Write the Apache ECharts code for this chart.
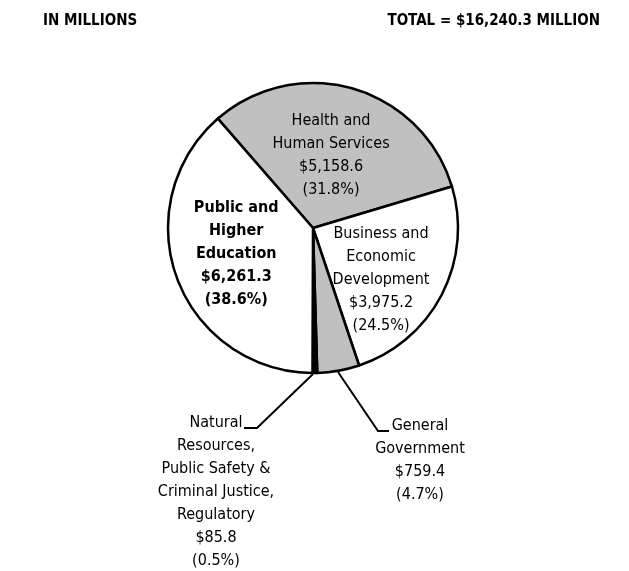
<!DOCTYPE html>
<html>
<head>
<meta charset="utf-8">
<script src="https://cdn.jsdelivr.net/npm/echarts@6/dist/echarts.min.js"></script>
<style>
  html, body { margin: 0; padding: 0; background: #fff; }
  #chart { width: 629px; height: 571px; }
</style>
</head>
<body>
<div id="chart"></div>
<script>
// Budget areas, in millions of dollars
const categories = [
  'Health and\nHuman Services',
  'Business and\nEconomic\nDevelopment',
  'General\nGovernment',
  'Natural\nResources,\nPublic Safety &\nCriminal Justice,\nRegulatory',
  'Public and\nHigher\nEducation'
];
const amounts = [5158.6, 3975.2, 759.4, 85.8, 6261.3];
const shares = [31.8, 24.5, 4.7, 0.5, 38.6];
const totalAmount = 16240.3;
const unitsLabel = 'IN MILLIONS';

// Styling per slice
const sliceColors = ['#c0c0c0', '#ffffff', '#c0c0c0', '#000000', '#ffffff'];
const boldLabel = [false, false, false, false, true];
const outsideLabel = [false, false, true, true, false];

// Pie geometry
const CX = 313, CY = 228, R = 145;
const FONT = '"Liberation Sans Narrow", "DejaVu Sans Condensed", "Arial Narrow", sans-serif';
const LINE_H = 23;

const money = v => '$' + v.toLocaleString('en-US', { minimumFractionDigits: 1, maximumFractionDigits: 1 });

// Nudges for labels drawn inside their slices
const insideShift = { 0: [-3, 0], 1: [1, 17], 4: [-6, 0] };

const chart = echarts.init(document.getElementById('chart'), null, { renderer: 'canvas' });

chart.setOption({
  backgroundColor: '#ffffff',
  animation: false,
  title: [
    {
      text: unitsLabel,
      left: 43, top: 14, padding: 0,
      textStyle: { fontFamily: FONT, fontSize: 15, fontWeight: 'bold', color: '#000' }
    },
    {
      text: 'TOTAL = ' + money(totalAmount) + ' MILLION',
      right: 29, top: 14, padding: 0,
      textStyle: { fontFamily: FONT, fontSize: 15, fontWeight: 'bold', color: '#000' }
    }
  ],
  series: [{
    type: 'pie',
    center: [CX, CY],
    radius: [0, R],
    startAngle: 131,
    clockwise: true,
    avoidLabelOverlap: false,
    silent: true,
    itemStyle: { borderColor: '#000', borderWidth: 2.5 },
    labelLine: { show: true, length: 20, length2: 10, lineStyle: { color: '#000', width: 2 } },
    label: {
      fontFamily: FONT,
      fontSize: 16,
      lineHeight: LINE_H,
      color: '#000',
      align: 'center',
      formatter: p => p.name + '\n' + money(p.value) + '\n(' + shares[p.dataIndex].toFixed(1) + '%)'
    },
    labelLayout: function (params) {
      const i = params.dataIndex;
      if (!outsideLabel[i]) {
        const s = insideShift[i] || [0, 0];
        return { dx: s[0], dy: s[1] };
      }
      if (i === 2) {
        // General Government: leader runs down-right, text to its right
        const elbow = [CX + 65, CY + 203];
        const end = [elbow[0] + 11, elbow[1]];
        return {
          x: CX + 107, y: CY + 186, align: 'center', verticalAlign: 'top',
          labelLinePoints: [[CX + 25, CY + 144], elbow, end]
        };
      }
      // Natural Resources: leader runs down-left, text to its left
      const elbow = [CX - 56, CY + 200];
      const end = [elbow[0] - 13, elbow[1]];
      return {
        x: CX - 97, y: CY + 183, align: 'center', verticalAlign: 'top',
        labelLinePoints: [[CX, CY + 146], elbow, end]
      };
    },
    data: categories.map((name, i) => ({
      name: name,
      value: amounts[i],
      itemStyle: { color: sliceColors[i] },
      label: {
        position: outsideLabel[i] ? 'outside' : 'inside',
        fontWeight: boldLabel[i] ? 'bold' : 'normal'
      },
      labelLine: { show: outsideLabel[i] }
    }))
  }]
});
</script>
</body>
</html>
